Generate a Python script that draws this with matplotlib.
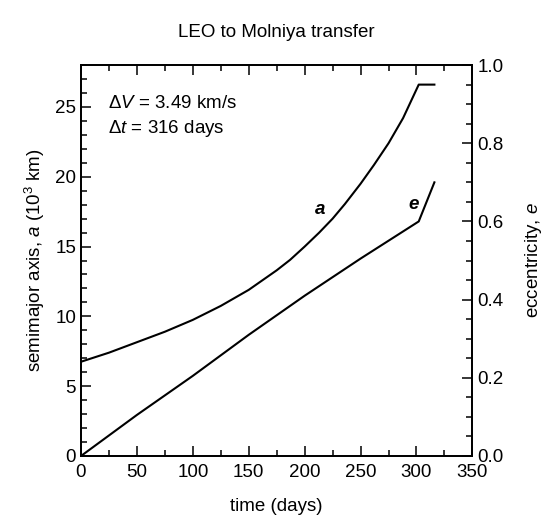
import matplotlib
matplotlib.use('Agg')
import matplotlib.pyplot as plt
from matplotlib.ticker import MultipleLocator

plt.rcParams['font.family'] = ['Liberation Sans', 'DejaVu Sans']
plt.rcParams['mathtext.fontset'] = 'custom'
plt.rcParams['mathtext.rm'] = 'Liberation Sans'
plt.rcParams['mathtext.it'] = 'Liberation Sans:italic'
plt.rcParams['mathtext.bf'] = 'Liberation Sans:bold'

# semimajor axis (10^3 km) vs time (days)
t_a = [0, 25, 50, 75, 100, 125, 150, 175, 187, 200, 213, 225, 236, 250, 262, 275, 288, 302, 316]
a_vals = [6.75, 7.4, 8.15, 8.9, 9.75, 10.75, 11.9, 13.3, 14.05, 15.0, 16.0, 17.0, 18.05,
          19.5, 20.85, 22.4, 24.2, 26.6, 26.6]

# eccentricity vs time (days)
t_e = [0, 50, 100, 150, 200, 250, 302, 316]
e_vals = [0.0, 0.105, 0.205, 0.31, 0.41, 0.505, 0.6, 0.70]

x_ticks = [0, 50, 100, 150, 200, 250, 300, 350]

fs = 13.5

fig = plt.figure(figsize=(5.49, 5.29), dpi=100)
ax = fig.add_axes([0.1475, 0.138, 0.713, 0.739])
ax2 = ax.twinx()

ax.plot(t_a, a_vals, color='black', lw=1.5)
ax2.plot(t_e, e_vals, color='black', lw=1.5)

ax.set_xlim(0, 350)
ax.set_ylim(0, 28)
ax2.set_ylim(0, 1.0)
ax.set_xticks(x_ticks)
ax.xaxis.set_minor_locator(MultipleLocator(25))
ax.yaxis.set_major_locator(MultipleLocator(5))
ax.yaxis.set_minor_locator(MultipleLocator(1))
ax2.yaxis.set_major_locator(MultipleLocator(0.2))
ax2.yaxis.set_minor_locator(MultipleLocator(0.05))
ax2.yaxis.set_major_formatter(plt.FormatStrFormatter('%.1f'))

ax.tick_params(axis='x', which='both', direction='in', top=True, labelsize=fs, pad=6)
ax.tick_params(axis='y', which='both', direction='in', left=True, right=False, labelsize=fs)
ax.tick_params(which='major', length=7, width=1.1)
ax.tick_params(which='minor', length=4, width=1.1)
ax2.tick_params(axis='y', which='both', direction='in', labelsize=fs)
ax2.tick_params(which='major', length=7, width=1.1)
ax2.tick_params(which='minor', length=4, width=1.1)

for sp in ax.spines.values():
    sp.set_linewidth(1.3)
for sp in ax2.spines.values():
    sp.set_linewidth(1.3)

ax.set_xlabel('time (days)', fontsize=fs, labelpad=12)
ax.set_ylabel('semimajor axis, $a$ (10$^3$ km)', fontsize=fs, labelpad=6)
ax2.set_ylabel('eccentricity, $e$', fontsize=fs, labelpad=14)
ax.set_title('LEO to Molniya transfer', fontsize=fs, pad=20)

ax.text(0.068, 0.89, '$\\Delta V$ = 3.49 km/s', transform=ax.transAxes, fontsize=fs)
ax.text(0.068, 0.826, '$\\Delta t$ = 316 days', transform=ax.transAxes, fontsize=fs)
ax.text(209, 17.3, 'a', fontsize=fs, style='italic', fontweight='bold')
ax.text(293, 17.7, 'e', fontsize=fs, style='italic', fontweight='bold')

fig.savefig('out.png', dpi=100)
